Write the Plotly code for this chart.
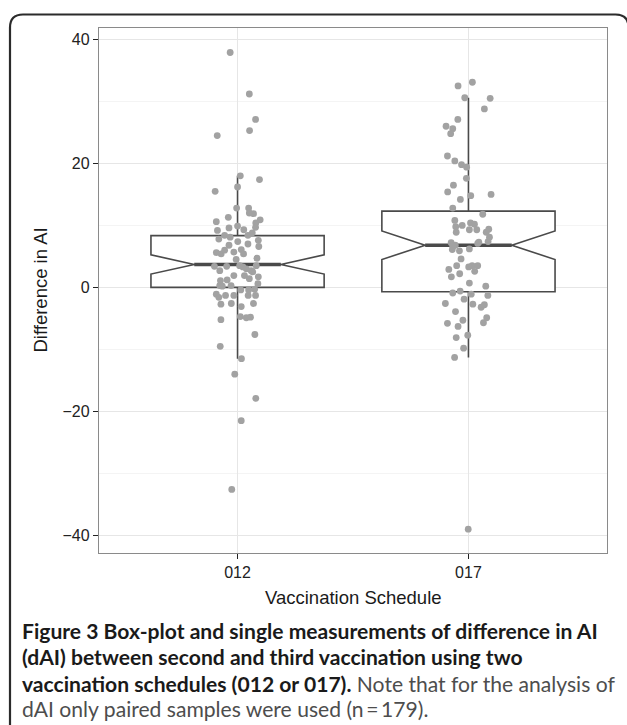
import plotly.graph_objects as go

# ---------------- data ----------------
categories = ["012", "017"]
cat_pos = [0, 1]

q1_vals = [0.0, -0.7]
median_vals = [3.7, 6.8]
q3_vals = [8.35, 12.3]
lower_whisker = [-11.5, -11.3]
upper_whisker = [18.0, 30.6]
notch_span = [1.55, 2.3]

# group 012: values and horizontal jitter (category units)
vals_012 = [37.9, 31.2, 27.1, 25.3, 24.5, 18.0, 17.4, 15.5, 16.2, 12.8,
            12.8, 12.0, 11.9, 11.3, 10.6, 10.9, 10.4, 9.2, 9.6, 9.9,
            9.3, 9.7, 7.8, 8.4, 8.1, 8.4, 8.8, 7.6, 6.6, 7.4,
            7.0, 6.8, 5.6, 5.4, 6.0, 5.7, 6.1, 5.4, 4.5, 4.7,
            3.4, 2.7, 3.4, 3.5, 3.0, 2.7, 3.5, 1.9, 1.9, 1.4,
            1.7, 1.1, 1.2, 0.3, 0.3, 0.6, -0.4, -0.4, -1.1, -1.6,
            -1.3, -1.3, -1.3, -1.3, -2.7, -2.6, -3.1, -2.6, -5.2, -4.7,
            -4.9, -4.8, -7.6, -9.5, -11.5, -14.0, -17.9, -21.5, -32.6,
            3.3, 0.2, -0.3, 2.5]
jit_012 = [-0.032, 0.051, 0.078, 0.052, -0.088, 0.012, 0.095, -0.097, 0.0, -0.004,
           0.048, 0.051, 0.069, -0.040, -0.092, 0.098, 0.079, -0.087, -0.037, 0.0,
           0.027, 0.078, -0.081, -0.056, -0.032, 0.045, 0.064, 0.090, 0.092, 0.001,
           0.045, -0.037, -0.092, -0.071, -0.056, -0.016, 0.016, 0.026, -0.006, 0.084,
           -0.100, -0.077, -0.047, 0.009, 0.038, 0.059, 0.081, 0.030, -0.016, 0.051,
           0.090, -0.074, -0.045, -0.077, -0.028, 0.088, 0.014, 0.048, -0.092, -0.081,
           -0.052, -0.016, 0.046, 0.078, -0.072, -0.027, 0.016, 0.069, -0.072, 0.012,
           0.038, 0.056, 0.075, -0.075, 0.017, -0.012, 0.079, 0.016, -0.025,
           0.023, -0.066, 0.074, 0.066]

# group 017
vals_017 = [32.5, 33.1, 30.6, 30.5, 28.8, 27.1, 26.0, 25.6, 24.8, 21.2,
            20.4, 19.8, 19.4, 17.6, 16.5, 15.4, 14.8, 15.0, 14.2, 12.8,
            11.8, 10.8, 10.0, 9.8, 10.4, 10.2, 9.3, 9.3, 9.4, 8.9,
            8.9, 8.1, 7.4, 7.2, 6.8, 6.1, 5.9, 6.2, 7.1, 4.6,
            3.5, 2.9, 3.3, 3.5, 3.5, 2.6, 1.7, 2.2, 0.7, 0.2,
            -0.9, -0.6, -1.1, -1.3, -2.6, -1.9, -2.7, -3.2, -2.8, -3.9,
            -4.9, -5.3, -5.8, -6.3, -5.7, -7.7, -8.1, -9.8, -11.3, -39.0,
            6.6, 7.3]
jit_017 = [-0.045, 0.017, -0.016, 0.094, 0.069, -0.046, -0.097, -0.068, -0.077, -0.091,
           -0.059, -0.030, -0.008, -0.009, -0.065, -0.090, 0.010, 0.098, -0.035, -0.068,
           0.062, -0.059, -0.027, -0.055, 0.009, 0.026, 0.036, 0.004, 0.088, 0.077,
           -0.053, 0.091, 0.085, -0.075, -0.057, -0.070, -0.039, 0.004, 0.040, -0.032,
           -0.051, -0.085, 0.001, 0.016, 0.040, 0.027, -0.074, -0.038, 0.004, 0.075,
           -0.068, -0.036, 0.012, 0.084, -0.100, -0.019, 0.019, 0.055, 0.069, -0.056,
           0.079, -0.024, -0.091, -0.045, 0.065, -0.003, -0.053, -0.021, -0.060, -0.001,
           -0.068, 0.045]

y_ticks = [-40, -20, 0, 20, 40]
y_ticktext = ["\u221240", "\u221220", "0", "20", "40"]

# ---------------- styling ----------------
W, H = 627, 725
# plot area in window pixels: x 99..607, y 28..553
ML, MT = 99, 28
MR, MB = W - 607, H - 553
PW, PH = W - ML - MR, H - MT - MB
BOX_W = 0.75
BOX_COL = "#4a4a4a"
PT_COL = "#a2a2a2"
AX_FONT = "Liberation Sans, Arial, sans-serif"
CAP_FONT = "Lato, Open Sans, sans-serif"


def px_x(px):
    return (px - ML) / PW


def px_y(py):
    return (H - MB - py) / PH


fig = go.Figure()

for i, pos in enumerate(cat_pos):
    fig.add_trace(go.Box(
        x=[pos], q1=[q1_vals[i]], median=[median_vals[i]], q3=[q3_vals[i]],
        lowerfence=[lower_whisker[i]], upperfence=[upper_whisker[i]],
        notched=True, notchspan=[notch_span[i]], notchwidth=0.25,
        width=BOX_W, whiskerwidth=0, fillcolor="white",
        line=dict(color=BOX_COL, width=1.6), boxpoints=False,
        showlegend=False, hoverinfo="skip"))

# thick median segments
mx, my = [], []
for i, pos in enumerate(cat_pos):
    half = BOX_W * 0.25
    mx += [pos - half, pos + half, None]
    my += [median_vals[i], median_vals[i], None]
fig.add_trace(go.Scatter(x=mx, y=my, mode="lines",
                         line=dict(color=BOX_COL, width=3.6),
                         showlegend=False, hoverinfo="skip"))

# jittered points
for pos, vals, jit in [(cat_pos[0], vals_012, jit_012), (cat_pos[1], vals_017, jit_017)]:
    fig.add_trace(go.Scatter(
        x=[pos + j for j in jit], y=vals, mode="markers",
        marker=dict(color=PT_COL, size=6.8, line=dict(width=0)),
        showlegend=False, hoverinfo="skip"))

axis_common = dict(
    showline=True, mirror=True, linecolor="#8a8a8a", linewidth=1.2,
    ticks="outside", ticklen=5, tickwidth=1.6, tickcolor="#222222",
    tickfont=dict(family=AX_FONT, size=16, color="#222222"),
    showgrid=True, gridcolor="#e6e6e6", gridwidth=1, zeroline=False)

fig.update_xaxes(**axis_common, range=[-0.6, 1.6], tickvals=cat_pos,
                 ticktext=categories)
fig.update_yaxes(**axis_common, range=[-42.85, 41.85], tickvals=y_ticks,
                 ticktext=y_ticktext,
                 minor=dict(tickvals=[-30, -10, 10, 30], showgrid=True,
                            gridcolor="#f4f4f4", ticks=""))

annotations = [
    dict(text="Difference in AI", x=px_x(40), y=0.5, xref="paper", yref="paper",
         textangle=-90, showarrow=False, xanchor="center", yanchor="middle",
         font=dict(family=AX_FONT, size=18.5, color="#1a1a1a")),
    dict(text="Vaccination Schedule", x=0.5, y=px_y(597), xref="paper", yref="paper",
         showarrow=False, xanchor="center", yanchor="middle",
         font=dict(family=AX_FONT, size=18.5, color="#1a1a1a")),
]

cap_lines = [
    "<b>Figure 3 Box-plot and single measurements of difference in AI</b>",
    "<b>(dAI) between second and third vaccination using two</b>",
    "<b>vaccination schedules (012 or 017).</b> <span style='color:#4d4d4d'>Note that for the analysis of</span>",
    "<span style='color:#4d4d4d'>dAI only paired samples were used (n\u2009=\u2009179).</span>",
]
cap_y = [630, 656.5, 683, 708.5]
for t, yy in zip(cap_lines, cap_y):
    annotations.append(dict(text=t, x=px_x(20), y=px_y(yy), xref="paper", yref="paper",
                            showarrow=False, xanchor="left", yanchor="middle", align="left",
                            font=dict(family=CAP_FONT, size=21.1, color="#1a1a1a")))

# rounded outer frame (open at bottom / right edge)
r = 13
fl, ft, fr, fb = 10, 14.5, 628.5, 760
path = (f"M {px_x(fl)} {px_y(fb)} L {px_x(fl)} {px_y(ft + r)} "
        f"Q {px_x(fl)} {px_y(ft)} {px_x(fl + r)} {px_y(ft)} "
        f"L {px_x(fr - r)} {px_y(ft)} Q {px_x(fr)} {px_y(ft)} {px_x(fr)} {px_y(ft + r)} "
        f"L {px_x(fr)} {px_y(fb)}")

fig.update_layout(
    width=W, height=H, margin=dict(l=ML, r=MR, t=MT, b=MB, pad=0),
    plot_bgcolor="white", paper_bgcolor="white",
    annotations=annotations,
    shapes=[dict(type="path", path=path, xref="paper", yref="paper",
                 line=dict(color="#2b2b2b", width=2.2), layer="above")],
)

fig.write_html(
    "out.html",
    config={"displayModeBar": False, "staticPlot": True},
    post_script="document.body.style.margin='0';document.body.style.overflow='hidden';",
)
